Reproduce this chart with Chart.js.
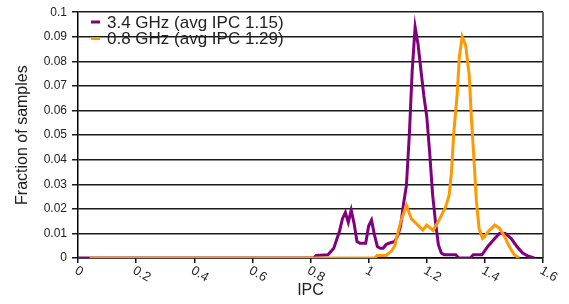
<!DOCTYPE html>
<html lang="en">
<head>
    <meta charset="UTF-8">
    <title>IPC distribution</title>
    <script src="https://cdn.jsdelivr.net/npm/chart.js"></script>
    <style>
        body {
            margin: 0;
            background: #ffffff;
        }
        #chart {
            display: block;
        }
    </style>
</head>
<body>
    <canvas id="chart" width="569" height="304"></canvas>

    <script>
    // Series labels
    const seriesLabels = ["3.4 GHz (avg IPC 1.15)", "0.8 GHz (avg IPC 1.29)"];

    // 3.4 GHz curve
    const fastIpc = [0, 0.81, 0.82, 0.86, 0.88, 0.90, 0.91, 0.92, 0.93, 0.94, 0.95, 0.96, 0.97, 0.99,
                     1.00, 1.01, 1.02, 1.03, 1.04, 1.05, 1.06, 1.07, 1.09, 1.10, 1.11, 1.12, 1.13, 1.14,
                     1.15, 1.16, 1.17, 1.18, 1.19, 1.20, 1.21, 1.22, 1.23, 1.24, 1.25, 1.26, 1.30, 1.31,
                     1.35, 1.36, 1.39, 1.41, 1.43, 1.45, 1.47, 1.49, 1.51, 1.53, 1.55, 1.57];
    const fastFrac = [0, 0, 0.001, 0.0013, 0.004, 0.011, 0.016, 0.0185, 0.0145, 0.0195, 0.014, 0.0067, 0.006, 0.006,
                      0.013, 0.0154, 0.0094, 0.0047, 0.004, 0.004, 0.0055, 0.006, 0.0067, 0.009, 0.013, 0.022, 0.0295, 0.05,
                      0.0764, 0.094, 0.087, 0.0764, 0.066, 0.0576, 0.043, 0.026, 0.0147, 0.0054, 0.002, 0.0013, 0.0013, 0,
                      0, 0.0013, 0.0013, 0.0047, 0.0074, 0.010, 0.010, 0.008, 0.0047, 0.002, 0.0007, 0];

    // 0.8 GHz curve
    const slowIpc = [0.04, 1.02, 1.03, 1.06, 1.08, 1.09, 1.11, 1.13, 1.147, 1.164, 1.187, 1.20, 1.222, 1.245,
                     1.265, 1.277, 1.285, 1.293, 1.305, 1.312, 1.322, 1.334, 1.346, 1.354, 1.363, 1.371, 1.380,
                     1.392, 1.40, 1.411, 1.434, 1.451, 1.468, 1.484, 1.501, 1.518];
    const slowFrac = [0, 0, 0.001, 0.001, 0.003, 0.005, 0.0147, 0.0214, 0.016, 0.014, 0.0114, 0.0134, 0.0112, 0.016,
                      0.0208, 0.0255, 0.0348, 0.051, 0.067, 0.0818, 0.090, 0.0865, 0.0744, 0.0563, 0.0389, 0.0228, 0.012,
                      0.008, 0.0088, 0.0107, 0.0134, 0.012, 0.0087, 0.0047, 0.0013, 0];

    // Axis ticks
    const xTickValues = [0, 0.2, 0.4, 0.6, 0.8, 1.0, 1.2, 1.4, 1.6];
    const xTickLabels = ["0", "0.2", "0.4", "0.6", "0.8", "1", "1.2", "1.4", "1.6"];

    const FONT = "'Liberation Sans', Arial, sans-serif";
    const colors = ["#800080", "#ff9900"];

    function toPoints(xs, ys) {
        return xs.map((x, i) => ({ x: x, y: ys[i] }));
    }

    // rotated x labels, right border and the in-plot legend
    const decorations = {
        id: 'decorations',
        afterDraw(chart) {
            const ctx = chart.ctx;
            const area = chart.chartArea;
            const xs = chart.scales.x;

            ctx.save();
            ctx.strokeStyle = '#333';
            ctx.lineWidth = 1.5;
            ctx.beginPath();
            ctx.moveTo(area.right, area.top);
            ctx.lineTo(area.right, area.bottom);
            ctx.stroke();

            ctx.fillStyle = '#222';
            ctx.font = "13px " + FONT;
            ctx.textAlign = 'left';
            ctx.textBaseline = 'top';
            xTickValues.forEach((v, i) => {
                const px = xs.getPixelForValue(v);
                ctx.save();
                ctx.translate(px + 1, area.bottom + 6);
                ctx.rotate(30 * Math.PI / 180);
                ctx.fillText(xTickLabels[i], 0, 0);
                ctx.restore();
            });

            ctx.font = "17px " + FONT;
            ctx.textBaseline = 'middle';
            seriesLabels.forEach((label, i) => {
                const y = 22 + i * 16.5;
                ctx.strokeStyle = colors[i];
                ctx.lineWidth = 3;
                ctx.beginPath();
                ctx.moveTo(91, y);
                ctx.lineTo(100, y);
                ctx.stroke();
                ctx.fillStyle = '#222';
                ctx.fillText(label, 107, y + 1);
            });
            ctx.restore();
        }
    };

    new Chart(document.getElementById('chart'), {
        type: 'line',
        data: {
            datasets: [
                {
                    label: seriesLabels[0],
                    data: toPoints(fastIpc, fastFrac),
                    borderColor: colors[0],
                    backgroundColor: colors[0],
                    borderWidth: 3,
                    pointRadius: 0,
                    tension: 0,
                    order: 1
                },
                {
                    label: seriesLabels[1],
                    data: toPoints(slowIpc, slowFrac),
                    borderColor: colors[1],
                    backgroundColor: colors[1],
                    borderWidth: 3,
                    pointRadius: 0,
                    tension: 0,
                    order: 0
                }
            ]
        },
        options: {
            responsive: false,
            animation: false,
            layout: { padding: { left: 0, right: 26, top: 10, bottom: 0 } },
            plugins: {
                legend: { display: false },
                tooltip: { enabled: false }
            },
            scales: {
                x: {
                    type: 'linear',
                    min: 0,
                    max: 1.6,
                    afterFit(scale) { scale.height = 46; },
                    ticks: { stepSize: 0.2, display: false },
                    grid: {
                        drawOnChartArea: false,
                        drawTicks: true,
                        tickLength: 5,
                        color: '#111',
                        lineWidth: 1.5
                    },
                    border: { color: '#000', width: 1.5 },
                    title: {
                        display: true,
                        text: 'IPC',
                        color: '#222',
                        font: { family: FONT, size: 16 },
                        padding: { top: 4, bottom: 4 }
                    }
                },
                y: {
                    min: 0,
                    max: 0.1,
                    afterFit(scale) { scale.width = 78; },
                    ticks: {
                        stepSize: 0.01,
                        color: '#222',
                        padding: 5,
                        font: { family: FONT, size: 12 },
                        callback: v => String(+v.toFixed(2))
                    },
                    grid: {
                        color: '#1a1a1a',
                        lineWidth: 1.5,
                        tickLength: 6
                    },
                    border: { color: '#000', width: 1.5 },
                    title: {
                        display: true,
                        text: 'Fraction of samples',
                        color: '#222',
                        font: { family: FONT, size: 16 },
                        padding: { top: 13, bottom: 0 }
                    }
                }
            }
        },
        plugins: [decorations]
    });
    </script>
</body>
</html>
